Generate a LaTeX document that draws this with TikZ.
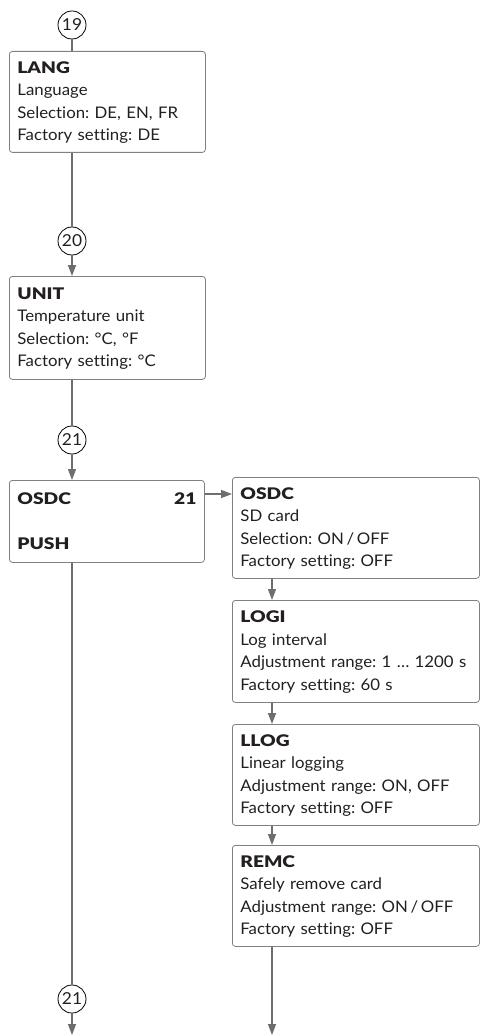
\documentclass[tikz,border=0pt]{standalone}
\usepackage{fontspec}
\setmainfont{Lato}[Ligatures=NoCommon, FakeStretch=1.05, BoldFont={Lato Black},
  BoldFeatures={FakeStretch=1.2}]
\usetikzlibrary{arrows.meta}
\frenchspacing
\definecolor{linegray}{HTML}{6D6E71}
\definecolor{boxgray}{HTML}{808080}
\definecolor{txt}{HTML}{231F20}
\tikzset{
  menubox/.style={draw=boxgray, line width=0.8pt, rounded corners=3pt, anchor=north west,
    align=left, inner xsep=8pt, inner ysep=0pt, text=txt,
    font=\fontsize{16}{22.5}\selectfont\frenchspacing},
  numcircle/.style={circle, draw=black, line width=0.8pt, minimum size=28pt, inner sep=0pt,
    text=txt, font=\fontsize{16.5}{16.5}\selectfont},
  conn/.style={draw=linegray, line width=1.4pt},
  arr/.style={conn, -{Triangle[width=8pt,length=11pt]}},
}
\begin{document}
\begin{tikzpicture}[x=1pt,y=-1pt]
\useasboundingbox (0,0) rectangle (480,1035);

% left column
\node[numcircle] (c19) at (72,25) {19};
\node[menubox, text width=180pt, minimum height=101pt] (lang) at (9,51)
  {\rule{0pt}{13pt}\textbf{LANG}\\Language\\Selection: DE, EN, FR\\Factory setting: DE};
\node[numcircle] (c20) at (72,241) {20};
\node[menubox, text width=180pt, minimum height=103pt] (unit) at (9,276)
  {\rule{0pt}{13pt}\textbf{UNIT}\\Temperature unit\\Selection: °C, °F\\Factory setting: °C};
\node[numcircle] (c21) at (72,440) {21};
\node[menubox, text width=179pt, minimum height=82pt] (osdc) at (9,480)
  {\textbf{OSDC}\hfill\textbf{21}\hspace*{8pt}\\[22.5pt]\textbf{PUSH}};
\node[numcircle] (c21b) at (72,999) {21};
\coordinate (endL) at (72,1035);

% right column
\node[menubox, text width=231pt, minimum height=101pt] (sd) at (232,477)
  {\rule{0pt}{13pt}\textbf{OSDC}\\SD card\\Selection: ON\,/\,OFF\\Factory setting: OFF};
\node[menubox, text width=231pt, minimum height=102pt] (logi) at (232,600)
  {\rule{0pt}{13pt}\textbf{LOGI}\\Log interval\\Adjustment range: 1 … 1200 s\\Factory setting: 60 s};
\node[menubox, text width=231pt, minimum height=101pt] (llog) at (232,724)
  {\rule{0pt}{13pt}\textbf{LLOG}\\Linear logging\\Adjustment range: ON, OFF\\Factory setting: OFF};
\node[menubox, text width=231pt, minimum height=101pt] (remc) at (232,845)
  {\rule{0pt}{13pt}\textbf{REMC}\\Safely remove card\\Adjustment range: ON\,/\,OFF\\Factory setting: OFF};
\coordinate (endR) at (272,1035);

% connectors left
\draw[conn] (c19.south) -- (c19.south |- lang.north);
\draw[conn] (lang.south -| c20) -- (c20.north);
\draw[arr] (c20.south) -- (c20.south |- unit.north);
\draw[conn] (unit.south -| c21) -- (c21.north);
\draw[arr] (c21.south) -- (c21.south |- osdc.north);
\draw[conn] (osdc.south -| c21b) -- (c21b.north);
\draw[arr] (c21b.south) -- (endL);

% connectors right
\draw[arr] ([yshift=-14pt]osdc.north east) -- ([yshift=-14pt]osdc.north east -| sd.west);
\draw[arr] ([xshift=40pt]sd.south west) -- ([xshift=40pt]logi.north west);
\draw[arr] ([xshift=40pt]logi.south west) -- ([xshift=40pt]llog.north west);
\draw[arr] ([xshift=40pt]llog.south west) -- ([xshift=40pt]remc.north west);
\draw[arr] ([xshift=40pt]remc.south west) -- (endR);
\end{tikzpicture}
\end{document}
